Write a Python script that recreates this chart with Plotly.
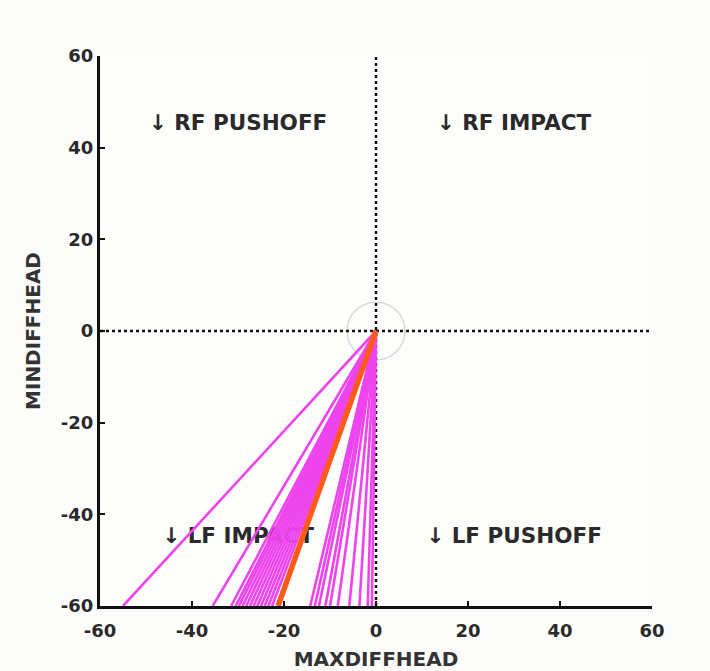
import plotly.graph_objects as go

# Endpoints (MAXDIFFHEAD at MINDIFFHEAD = -60) of each trial line from the origin
trial_x_end = [-55, -35.5, -31.5, -30.5, -29.8, -29, -28.2, -27.4, -26.6, -25.8, -25, -24.2, -23.4, -22.6,
               -14.3, -13.3, -12.4, -11, -10, -8.3, -5.8, -3.6, -1.8, -0.9]
trial_y_end = [-60] * len(trial_x_end)
mean_x_end = [-21.3]
mean_y_end = [-60]

quad_labels = ["↓ RF PUSHOFF", "↓ RF IMPACT", "↓ LF IMPACT", "↓ LF PUSHOFF"]
quad_x = [-30, 30, -30, 30]
quad_y = [45, 45, -45, -45]

tick_vals = [-60, -40, -20, 0, 20, 40, 60]

FONT = "DejaVu Sans, Liberation Sans, Arial"

fig = go.Figure()

# quadrant labels (drawn under the lines)
fig.add_trace(go.Scatter(
    x=quad_x, y=quad_y, mode="text", text=[f"<b>{t}</b>" for t in quad_labels],
    textfont=dict(family=FONT, size=21.5, color="#2a2a2a"),
    hoverinfo="skip", showlegend=False))

# dotted cross through origin
fig.add_trace(go.Scatter(x=[0, 0], y=[-60, 60], mode="lines",
                         line=dict(color="#111111", width=2.5, dash="dot"),
                         showlegend=False, hoverinfo="skip"))
fig.add_trace(go.Scatter(x=[-60, 60], y=[0, 0], mode="lines",
                         line=dict(color="#111111", width=2.5, dash="dot"),
                         showlegend=False, hoverinfo="skip"))

for xe, ye in zip(trial_x_end, trial_y_end):
    fig.add_trace(go.Scatter(x=[0, xe], y=[0, ye], mode="lines",
                             line=dict(color="#ee44ee", width=2.6),
                             showlegend=False, hoverinfo="skip"))

for xe, ye in zip(mean_x_end, mean_y_end):
    fig.add_trace(go.Scatter(x=[0, xe], y=[0, ye], mode="lines",
                             line=dict(color="#ff5a1a", width=5.5),
                             showlegend=False, hoverinfo="skip"))

# faint circle around origin
fig.add_shape(type="circle", xref="x", yref="y", x0=-6.3, x1=6.3, y0=-6.3, y1=6.3,
              line=dict(color="#d8d8d8", width=1.5), layer="below")

axis_font = dict(family=FONT, size=18, color="#2a2a2a")
title_font = dict(family=FONT, size=20, color="#333333")

fig.update_xaxes(range=[-60, 60], tickvals=tick_vals, ticktext=[f"<b>{v}</b>" for v in tick_vals],
                 ticks="inside", ticklen=5, tickwidth=2, automargin=False,
                 tickcolor="#111111", showline=True, linecolor="#111111", linewidth=3,
                 showgrid=False, zeroline=False, tickfont=axis_font, ticklabelstandoff=6,
                 title=dict(text="<b>MAXDIFFHEAD</b>", font=title_font))
fig.update_yaxes(range=[-60, 60], tickvals=tick_vals, ticktext=[f"<b>{v}</b>" for v in tick_vals],
                 ticks="inside", ticklen=5, tickwidth=2, automargin=False,
                 tickcolor="#111111", showline=True, linecolor="#111111", linewidth=3,
                 showgrid=False, zeroline=False, tickfont=axis_font,
                 title=dict(text="<b>MINDIFFHEAD</b>", font=title_font))

fig.update_layout(
    width=710, height=671,
    margin=dict(l=100, r=58, t=56, b=65),
    paper_bgcolor="#fcfcfa", plot_bgcolor="#fdfdfb",
    font=dict(family=FONT),
)

fig.write_html("out.html")
